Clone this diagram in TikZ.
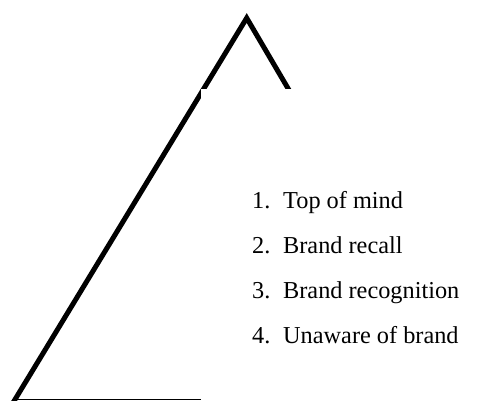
\documentclass[tikz,border=0pt]{standalone}
\usepackage{fontspec}
\setmainfont{Liberation Serif}
\usetikzlibrary{calc}
\begin{document}
\begin{tikzpicture}[x=1pt,y=-1pt,
  side/.style={line width=5pt,line join=miter,miter limit=20},
  base/.style={line width=1.3pt},
  item/.style={anchor=base west,inner sep=0pt,font=\fontsize{24.3}{29}\selectfont}]
\useasboundingbox (0,0) rectangle (477,401);
\clip (0,0) rectangle (477,401);
\coordinate (bl) at (15,399.5);
\coordinate (apex) at (246.7,18);
\coordinate (rend) at (296,102);
\coordinate (bend) at (201,399.5);
\draw[side] ($(bl)!-0.02!(apex)$) -- (apex) -- (rend);
\draw[base] (bl) -- (bend);
\fill[white] (201.2,89) rectangle (320,140);
\node[item] (i1) at (252,208) {\makebox[31pt][l]{1.}Top of mind};
\node[item] (i2) at (252,253) {\makebox[31pt][l]{2.}Brand recall};
\node[item] (i3) at (252,298) {\makebox[31pt][l]{3.}Brand recognition};
\node[item] (i4) at (252,343) {\makebox[31pt][l]{4.}Unaware of brand};
\end{tikzpicture}
\end{document}
